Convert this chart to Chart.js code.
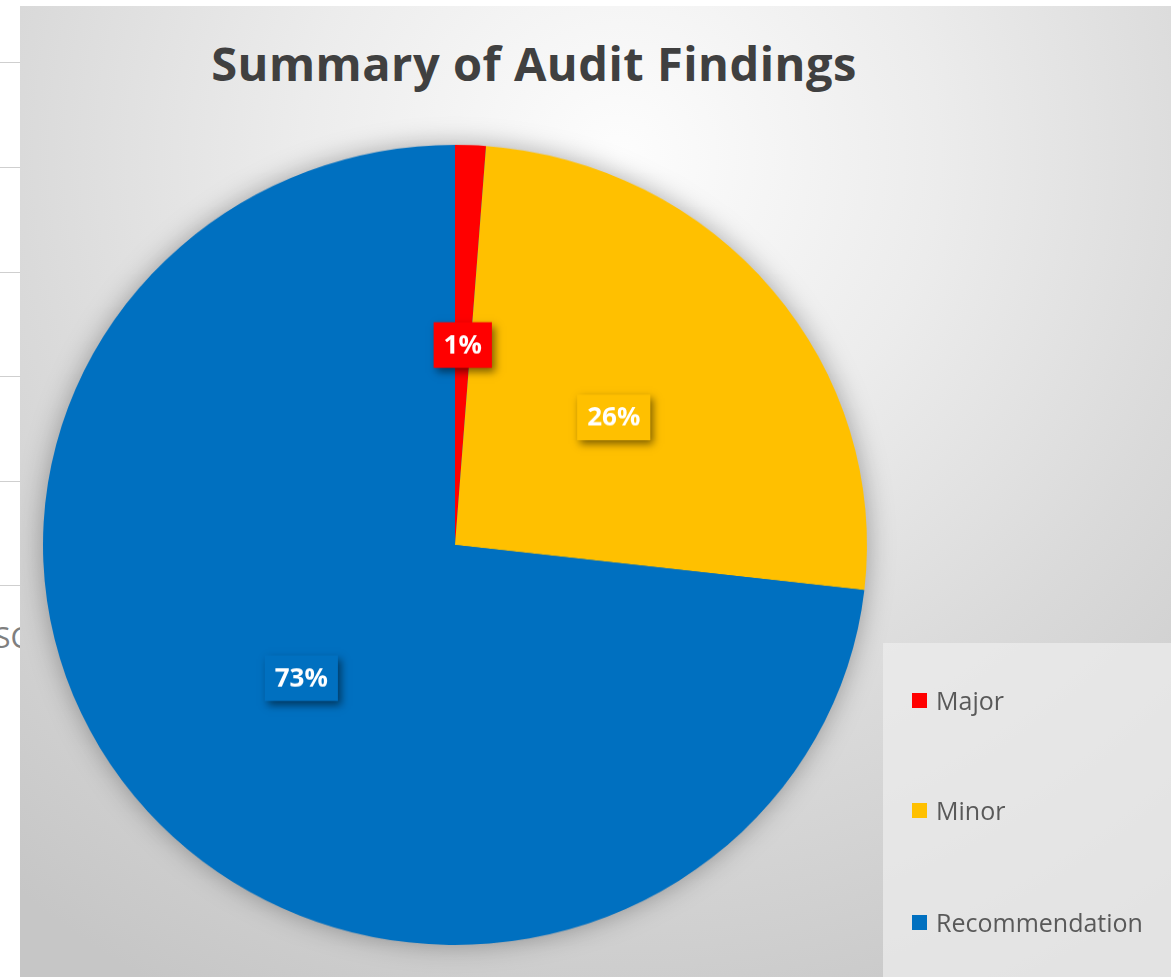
<!DOCTYPE html>
<html>
<head>
<meta charset="utf-8">
<script src="https://cdn.jsdelivr.net/npm/chart.js@4.4.1/dist/chart.umd.min.js"></script>
<style>
  body { margin: 0; width: 1171px; height: 977px; position: relative; overflow: hidden; background: #fff; font-family: "Open Sans", sans-serif; }
  .sheet-line { position: absolute; left: 0; width: 20px; height: 1px; background: #cfcfcf; }
  #sheet-text { position: absolute; left: -6px; top: 616px; font-size: 30px; color: #7f7f7f; }
  #frame {
    position: absolute; left: 20px; top: 6px; width: 1151px; height: 971px; overflow: hidden;
    background: radial-gradient(circle at 600px 150px, #fdfdfd 0px, #ececec 320px, #dadada 600px, #c6c6c6 950px);
  }
  #chart { position: absolute; left: 0; top: 0; width: 1151px; height: 1000px; transform: scaleY(0.971); transform-origin: 0 0; }
  #title { position: absolute; left: 0; width: 1028px; top: 28px; text-align: center; font-size: 47px; line-height: 58px; font-weight: bold; color: #404040; letter-spacing: 0.5px; }
  #legend { position: absolute; left: 863px; top: 637px; width: 288px; height: 334px; background: rgba(236,236,236,0.75); }
  .legend-item { position: absolute; left: 29px; height: 30px; display: flex; align-items: center; font-size: 25px; color: #595959; }
  .legend-item span.box { width: 15px; height: 15px; margin-right: 9px; }
</style>
</head>
<body>
<div class="sheet-line" style="top:62px"></div>
<div class="sheet-line" style="top:167px"></div>
<div class="sheet-line" style="top:272px"></div>
<div class="sheet-line" style="top:376px"></div>
<div class="sheet-line" style="top:481px"></div>
<div class="sheet-line" style="top:585px"></div>
<div id="sheet-text">SC</div>
<div id="frame">
  <div id="title">Summary of Audit Findings</div>
  <canvas id="chart" width="1151" height="1000"></canvas>
  <div id="legend"></div>
</div>
<script>
// ── Data ──────────────────────────────────────────────────
const categories = ['Major', 'Minor', 'Recommendation'];
const findings   = [1.2, 25.6, 73.2];
const colors     = ['#FF0000', '#FFC000', '#0070C0'];

const total = findings.reduce((s, v) => s + v, 0);

// soft shadow under the whole pie
const pieShadow = {
  id: 'pieShadow',
  beforeDatasetsDraw(chart) {
    const arc = chart.getDatasetMeta(0).data[0];
    if (!arc) return;
    const ctx = chart.ctx;
    ctx.save();
    ctx.shadowColor = 'rgba(0,0,0,0.35)';
    ctx.shadowBlur = 28;
    ctx.fillStyle = colors[2];
    ctx.beginPath();
    ctx.arc(arc.x, arc.y, arc.outerRadius - 1, 0, Math.PI * 2);
    ctx.fill();
    ctx.restore();
  }
};

// percentage boxes in the middle of each slice
const sliceLabels = {
  id: 'sliceLabels',
  afterDatasetsDraw(chart) {
    const ctx = chart.ctx;
    chart.getDatasetMeta(0).data.forEach((arc, i) => {
      const mid = (arc.startAngle + arc.endAngle) / 2;
      const r = arc.outerRadius * 0.5;
      const x = arc.x + Math.cos(mid) * r;
      const y = arc.y + Math.sin(mid) * r;
      const text = Math.round(findings[i] / total * 100) + '%';
      ctx.save();
      ctx.font = 'bold 26px "Open Sans"';
      const w = ctx.measureText(text).width + 20;
      const h = 47;
      ctx.shadowColor = 'rgba(0,0,0,0.5)';
      ctx.shadowBlur = 8;
      ctx.shadowOffsetX = 3;
      ctx.shadowOffsetY = 4;
      ctx.fillStyle = colors[i];
      ctx.fillRect(x - w / 2, y - h / 2, w, h);
      ctx.shadowColor = 'transparent';
      ctx.fillStyle = '#ffffff';
      ctx.textAlign = 'center';
      ctx.textBaseline = 'middle';
      ctx.fillText(text, x, y + 1);
      ctx.restore();
    });
  }
};

new Chart(document.getElementById('chart'), {
  type: 'pie',
  data: {
    labels: categories,
    datasets: [{
      data: findings,
      backgroundColor: colors,
      borderWidth: 0,
      hoverOffset: 0
    }]
  },
  options: {
    responsive: false,
    animation: false,
    devicePixelRatio: 1,
    layout: { padding: { left: 23, right: 304, top: 143, bottom: 33 } },
    plugins: { legend: { display: false }, tooltip: { enabled: false }, title: { display: false } }
  },
  plugins: [pieShadow, sliceLabels]
});

// ── Legend ────────────────────────────────────────────────
const legendTops = [42, 152, 264];
document.getElementById('legend').innerHTML = categories.map((c, i) => `
  <div class="legend-item" style="top:${legendTops[i]}px"><span class="box" style="background:${colors[i]}"></span>${c}</div>
`).join('');
</script>
</body>
</html>
